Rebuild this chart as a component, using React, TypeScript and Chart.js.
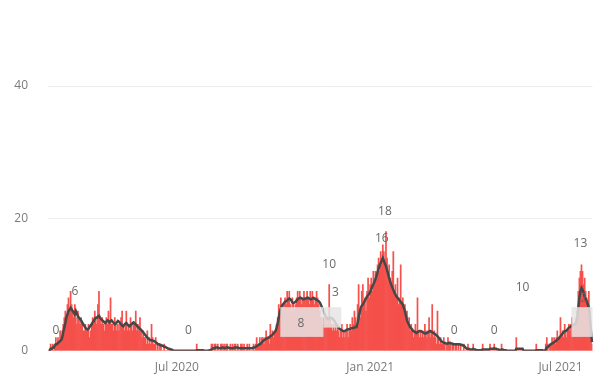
import React, { useEffect, useRef } from "react";
import { Chart, registerables } from "chart.js";

Chart.register(...registerables);

// Daily counts, 1 Mar 2020 – 31 Jul 2021, one array per month
const bars2020Mar = [0,0,1,0,1,0,1,2,1,2,1,3,2,3,4,5,6,5,7,8,6,9,7,6,5,7,5,4,6,5,4];
const bars2020Apr = [5,4,3,3,4,3,3,4,2,3,4,5,4,6,5,4,7,9,5,4,5,4,3,4,5,4,6,4,8,4];
const bars2020May = [4,3,5,4,3,4,3,4,5,6,4,3,4,6,3,4,3,5,4,3,4,4,6,3,4,3,5,3,2,3,2];
const bars2020Jun = [2,1,3,1,2,1,4,2,1,1,2,0,1,0,1,1,0,0,1,0,0,0,0,0,0,0,0,0,0,0];
const bars2020Jul = [0,0,0,0,0,0,0,0,0,0,0,0,0,0,0,0,0,0,0,1,0,0,0,0,0,0,0,0,0,0,0];
const bars2020Aug = [0,0,1,1,0,1,1,0,1,0,0,1,1,0,1,0,1,1,0,0,1,0,1,0,1,1,0,1,0,0,1];
const bars2020Sep = [1,0,1,0,0,1,0,1,0,0,0,1,0,1,2,1,1,2,1,2,2,1,2,3,2,2,1,4,2,3];
const bars2020Oct = [2,3,3,4,5,7,6,8,7,6,7,8,7,9,8,9,7,6,8,7,6,7,8,9,8,9,8,7,8,9,8];
const bars2020Nov = [8,9,8,7,9,8,9,8,7,8,9,8,7,6,5,5,4,5,4,5,4,5,10,5,4,3,4,3,4,3];
const bars2020Dec = [4,3,2,3,4,2,3,2,3,4,2,3,4,3,5,4,6,5,4,7,10,6,5,9,10,7,8,6,9,11,8];
const bars2021Jan = [10,11,9,12,10,12,11,13,14,12,15,14,16,15,13,18,14,12,13,11,10,12,15,9,10,8,11,7,8,13,7];
const bars2021Feb = [8,6,7,5,6,4,5,3,4,3,2,3,4,3,8,3,2,3,2,3,2,4,3,2,3,5,2,3];
const bars2021Mar = [7,2,3,2,1,6,2,1,2,1,1,2,1,0,1,2,1,1,0,1,1,0,1,1,0,1,0,1,0,0,1];
const bars2021Apr = [0,0,0,1,0,0,0,0,1,0,0,0,0,0,0,0,0,1,0,0,0,0,0,0,1,0,0,0,1,0];
const bars2021May = [0,0,0,0,0,1,0,0,0,0,0,0,0,0,0,0,0,0,0,2,0,0,0,0,0,0,0,0,0,0,0];
const bars2021Jun = [0,0,0,0,0,0,0,1,0,0,0,0,0,0,0,0,1,2,1,0,1,1,2,1,2,1,2,3,2,2];
const bars2021Jul = [5,2,3,2,4,3,2,3,4,3,4,5,3,4,4,5,6,9,11,12,13,12,10,11,9,8,7,9,6,3,1];

// Rolling average line, same days
const avg2020Mar = [0,0,0.3,0.3,0.5,0.5,0.8,1,1,1.2,1.3,1.5,1.6,2,2.8,3.5,4.2,5,5.5,6,6.2,6.5,6.3,6,5.8,5.5,6,5.6,5.2,5,4.8];
const avg2020Apr = [4.6,4.3,4,3.8,3.5,3.3,3.2,3.3,3.6,3.8,4,4.3,4.5,4.8,5,5,5.2,5.3,5,4.8,4.6,4.5,4.3,4.2,4.4,4.6,4.5,4.3,4.5,4.6];
const avg2020May = [4.4,4.2,4,4.1,4.3,4.5,4.4,4.2,4,3.8,3.7,3.9,4.1,4.2,4,3.8,3.7,3.9,4,4.2,4.3,4.1,4,3.8,3.6,3.5,3.3,3.2,3,2.8,2.6];
const avg2020Jun = [2.4,2.2,2,1.8,1.7,1.6,1.6,1.5,1.5,1.4,1.3,1.2,1,1,0.9,0.8,0.8,0.7,0.6,0.6,0.5,0.4,0.3,0.3,0.2,0.2,0.1,0,0,0];
const avg2020Jul = [0,0,0,0,0,0,0,0,0,0,0,0,0,0,0,0,0,0,0,0.1,0.1,0.1,0.1,0.1,0.1,0.1,0,0,0,0,0];
const avg2020Aug = [0.1,0.1,0.2,0.3,0.4,0.4,0.5,0.5,0.5,0.4,0.4,0.4,0.5,0.5,0.4,0.4,0.5,0.5,0.5,0.4,0.4,0.4,0.4,0.4,0.5,0.5,0.5,0.5,0.4,0.4,0.4];
const avg2020Sep = [0.4,0.4,0.4,0.4,0.4,0.4,0.4,0.4,0.4,0.4,0.4,0.5,0.5,0.6,0.7,0.8,0.9,1,1.1,1.3,1.5,1.6,1.7,1.8,1.9,2,2,2.2,2.3,2.4];
const avg2020Oct = [2.6,2.8,3,3.5,4.2,5,5.8,6.4,6.8,7,7.2,7.4,7.5,7.6,7.8,7.9,7.8,7.6,7.3,7.2,7.3,7.4,7.6,7.8,7.9,8,8,7.9,7.8,7.8,7.9];
const avg2020Nov = [7.9,8,8,7.9,7.8,7.8,7.9,8,7.9,7.8,7.7,7.6,7.5,7.3,7,6.6,6.2,5.8,5.4,5.1,4.9,4.8,4.9,5,5,4.9,4.7,4.5,4.2,3.9];
const avg2020Dec = [3.7,3.5,3.3,3.2,3.1,3,3,3,3.1,3.2,3.2,3.3,3.3,3.4,3.4,3.5,3.5,3.6,3.6,4.2,5,5.8,6.5,6.8,7,7.3,7.6,7.9,8.2,8.4,8.6];
const avg2021Jan = [8.9,9.3,9.7,10,10.4,10.8,11.3,11.9,12.4,12.9,13.3,13.6,14,13.6,13.2,12.8,12.2,11.6,11,10.5,10,9.6,9.2,8.8,8.5,8.2,8,7.8,7.6,7.4,7.2];
const avg2021Feb = [7,6.5,6,5.3,4.6,4.2,3.9,3.6,3.4,3.2,3,2.9,2.8,2.7,2.8,2.9,3,3,2.9,2.8,2.7,2.6,2.6,2.7,2.8,2.9,3,2.9];
const avg2021Mar = [2.8,2.7,2.6,2.5,2.3,2.2,2,1.8,1.6,1.4,1.3,1.2,1.2,1.1,1.1,1.1,1.2,1.2,1.1,1.1,1,1,1,1,1,1,1,0.9,0.9,0.8,0.8];
const avg2021Apr = [0.6,0.4,0.3,0.3,0.3,0.2,0.2,0.2,0.3,0.2,0.2,0.1,0.1,0.1,0.1,0.1,0.1,0.2,0.2,0.2,0.2,0.2,0.2,0.2,0.3,0.3,0.3,0.3,0.4,0.3];
const avg2021May = [0.3,0.2,0.2,0.1,0.1,0.2,0.2,0.1,0.1,0.1,0,0,0,0,0,0,0,0,0,0.3,0.3,0.3,0.3,0.3,0.3,0.3,0,0,0,0,0];
const avg2021Jun = [0,0,0,0,0,0,0,0.1,0.1,0.1,0.1,0.1,0.1,0.1,0,0,0.2,0.5,0.6,0.7,0.9,1,1.1,1.2,1.3,1.4,1.5,1.7,1.8,2];
const avg2021Jul = [2.2,2.4,2.6,2.8,3,3,3.1,3.3,3.5,3.6,3.7,3.8,3.9,4,4.1,4.3,5,6.5,8,9,9.5,9.2,8.8,8.2,7.8,7.5,7,6.5,5,3,1.3];

const startDate = "2020-03-01";
const tickDates = ["2020-07-01", "2021-01-01", "2021-07-01"];
const tickTexts = ["Jul 2020", "Jan 2021", "Jul 2021"];
const yTicks = [0, 20, 40];

// Data labels: day, value anchor, text
const labelDates = ["2020-03-08", "2020-03-26", "2020-07-12", "2020-11-23", "2021-01-15", "2021-01-12", "2021-03-22", "2021-04-29", "2021-05-26", "2021-07-20"];
const labelValues = [0, 6, 0, 10, 18, 14, 0, 0, 6.6, 13.2];
const labelTexts = ["0", "6", "0", "10", "18", "16", "0", "0", "10", "13"];

// Shaded label boxes: from day, to day, low value, high value, text day, text value, text
const boxFrom = ["2020-10-08", "2020-11-18", "2021-07-12"];
const boxTo = ["2020-11-17", "2020-12-04", "2021-07-31"];
const boxLow = [2.1, 3.5, 2.1];
const boxHigh = [6.6, 6.6, 6.6];
const boxTextDates = ["2020-10-27", "2020-11-29", "2021-07-23"];
const boxTextValues = [1.1, 5.8, 4.8];
const boxTexts = ["8", "3", "2"];

const barValues = [
  ...bars2020Mar, ...bars2020Apr, ...bars2020May, ...bars2020Jun, ...bars2020Jul, ...bars2020Aug,
  ...bars2020Sep, ...bars2020Oct, ...bars2020Nov, ...bars2020Dec, ...bars2021Jan, ...bars2021Feb,
  ...bars2021Mar, ...bars2021Apr, ...bars2021May, ...bars2021Jun, ...bars2021Jul,
];
const avgValues = [
  ...avg2020Mar, ...avg2020Apr, ...avg2020May, ...avg2020Jun, ...avg2020Jul, ...avg2020Aug,
  ...avg2020Sep, ...avg2020Oct, ...avg2020Nov, ...avg2020Dec, ...avg2021Jan, ...avg2021Feb,
  ...avg2021Mar, ...avg2021Apr, ...avg2021May, ...avg2021Jun, ...avg2021Jul,
];

function dayIndex(d: string): number {
  const a = Date.UTC(+startDate.slice(0, 4), +startDate.slice(5, 7) - 1, +startDate.slice(8, 10));
  const b = Date.UTC(+d.slice(0, 4), +d.slice(5, 7) - 1, +d.slice(8, 10));
  return Math.round((b - a) / 86400000);
}

const categories: string[] = barValues.map((_, i) => {
  const t = new Date(Date.UTC(2020, 2, 1) + i * 86400000);
  return t.toISOString().slice(0, 10);
});

const FONT = "'Open Sans', 'DejaVu Sans', sans-serif";

const labelPlugin = {
  id: "valueLabels",
  afterDatasetsDraw(chart: any) {
    const { ctx, scales } = chart;
    const x = scales.x;
    const y = scales.y;
    ctx.save();
    const half = (x.getPixelForValue(1) - x.getPixelForValue(0)) / 2;
    for (let k = 0; k < boxFrom.length; k++) {
      const x0 = x.getPixelForValue(dayIndex(boxFrom[k])) - half;
      const x1 = x.getPixelForValue(dayIndex(boxTo[k])) + half;
      const y0 = y.getPixelForValue(boxHigh[k]);
      const y1 = y.getPixelForValue(boxLow[k]);
      ctx.fillStyle = "rgba(230,228,228,0.85)";
      ctx.fillRect(x0, y0, x1 - x0, y1 - y0);
    }
    ctx.font = `12px ${FONT}`;
    ctx.fillStyle = "#6a6a6a";
    ctx.textAlign = "center";
    ctx.textBaseline = "middle";
    for (let k = 0; k < boxTexts.length; k++) {
      const px = x.getPixelForValue(dayIndex(boxTextDates[k]));
      const py = y.getPixelForValue(boxTextValues[k]) - 20;
      ctx.fillText(boxTexts[k], px, py);
    }
    for (let k = 0; k < labelTexts.length; k++) {
      const px = x.getPixelForValue(dayIndex(labelDates[k]));
      const py = y.getPixelForValue(labelValues[k]) - 20;
      ctx.fillText(labelTexts[k], px, py);
    }
    ctx.restore();
  },
};

export default function App() {
  const ref = useRef<HTMLCanvasElement | null>(null);
  useEffect(() => {
    if (!ref.current) return;
    const tickIdx = tickDates.map(dayIndex);
    const chart = new Chart(ref.current, {
      type: "bar",
      data: {
        labels: categories,
        datasets: [
          {
            type: "line",
            data: avgValues,
            borderColor: "#474747",
            borderWidth: 2.5,
            pointRadius: 0,
            tension: 0,
            order: 0,
          } as any,
          {
            type: "bar",
            data: barValues,
            backgroundColor: "#f5504b",
            borderWidth: 0,
            barPercentage: 1,
            categoryPercentage: 1,
            order: 1,
          } as any,
        ],
      },
      options: {
        responsive: false,
        animation: false,
        layout: { padding: { top: 86, right: 2, left: 0, bottom: 0 } },
        plugins: { legend: { display: false }, tooltip: { enabled: false } },
        scales: {
          x: {
            type: "category",
            offset: true,
            grid: { display: false, drawTicks: false },
            border: { display: false },
            ticks: {
              autoSkip: false,
              maxRotation: 0,
              minRotation: 0,
              padding: 10,
              color: "#7a7a7a",
              font: { size: 12, family: FONT },
              callback: (_v: any, i: number) => {
                const k = tickIdx.indexOf(i);
                return k >= 0 ? tickTexts[k] : "";
              },
            },
            afterFit: (s: any) => {
              s.height = 27;
            },
          },
          y: {
            min: 0,
            max: 40,
            afterBuildTicks: (s: any) => {
              s.ticks = yTicks.map((v) => ({ value: v }));
            },
            grid: {
              drawTicks: false,
              color: (c: any) => (c.tick && c.tick.value === 0 ? "rgba(0,0,0,0)" : "#ececec"),
            },
            border: { display: false },
            ticks: {
              padding: 20,
              color: "#7a7a7a",
              font: { size: 12, family: FONT },
            },
            afterFit: (s: any) => {
              s.width = 48;
            },
          },
        },
      },
      plugins: [labelPlugin],
    });
    return () => chart.destroy();
  }, []);
  return (
    <div style={{ position: "fixed", left: 0, top: 0, width: 602, height: 378, background: "#fff" }}>
      <canvas ref={ref} width={602} height={378} style={{ display: "block" }} />
    </div>
  );
}
